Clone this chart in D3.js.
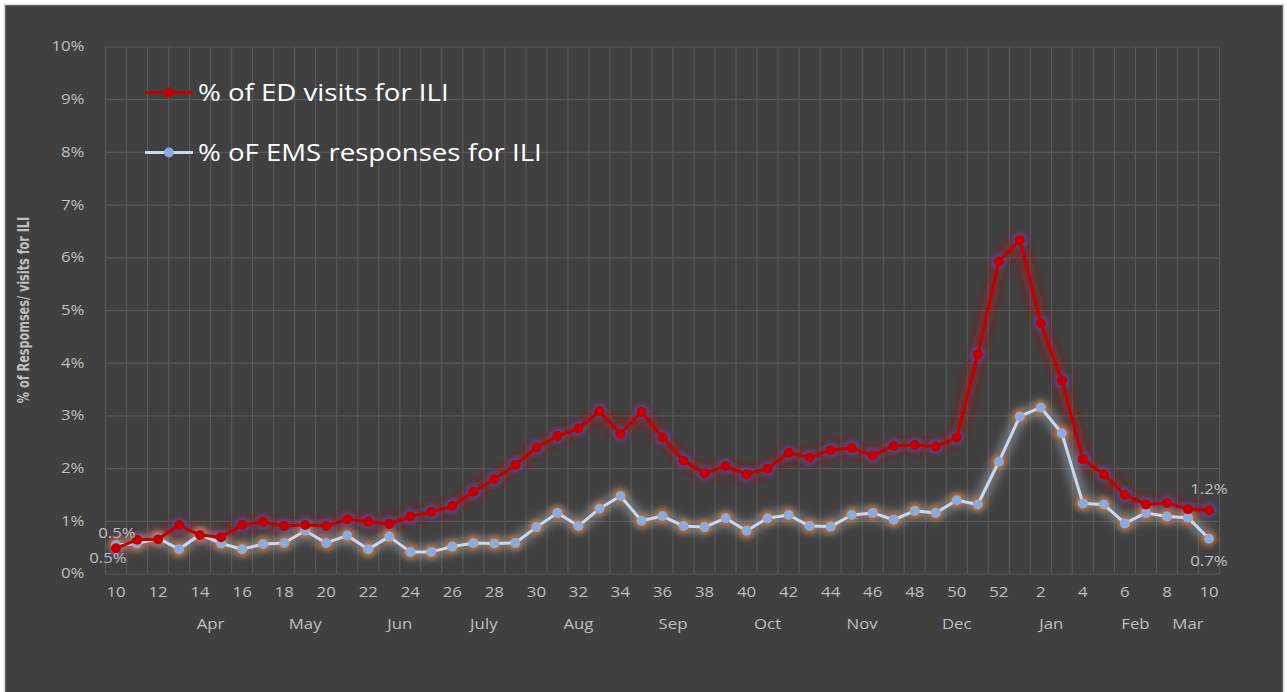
<!DOCTYPE html>
<html>
<head>
<meta charset="utf-8">
<script src="https://cdn.jsdelivr.net/npm/d3@7"></script>
<style>
    body { margin: 0; background: #ffffff; }
    text { font-family: "Open Sans", "Noto Sans", sans-serif; }
</style>
</head>
<body>
<div id="chart"></div>
<script>
// week numbers (category axis), season runs from week 10 to week 10 of next year
const weeks = ["10","11","12","13","14","15","16","17","18","19","20","21","22","23","24","25","26","27","28","29",
    "30","31","32","33","34","35","36","37","38","39","40","41","42","43","44","45","46","47","48","49",
    "50","51","52","1","2","3","4","5","6","7","8","9","10"];

// second category level (month), blank = same group as previous
const months = ["","","","","Apr","","May","","","","","","","Jun","","July","","","","","",
    "Aug","","","Sep","","","","","","Oct","","","Nov","","","","","","Dec","","","Jan",
    "","","","","","Feb","","Mar","",""];

// % of ED visits for ILI
const edVisits = [0.48,0.64,0.65,0.92,0.73,0.69,0.92,0.98,0.90,0.92,0.90,1.03,0.98,0.94,1.08,1.17,1.28,1.55,1.79,2.06,
    2.39,2.61,2.75,3.08,2.65,3.07,2.58,2.14,1.90,2.04,1.88,1.99,2.29,2.20,2.34,2.38,2.24,2.42,2.44,2.41,
    2.58,4.16,5.92,6.33,4.75,3.66,2.17,1.88,1.49,1.31,1.34,1.22,1.20];

// % of EMS responses for ILI
const emsResponses = [0.54,0.57,0.67,0.46,0.74,0.57,0.46,0.56,0.58,0.81,0.58,0.72,0.46,0.70,0.41,0.41,0.51,0.58,0.57,0.58,
    0.88,1.15,0.90,1.23,1.47,1.00,1.09,0.90,0.88,1.05,0.81,1.05,1.11,0.90,0.89,1.11,1.15,1.02,1.19,1.15,
    1.39,1.31,2.12,2.98,3.15,2.66,1.33,1.31,0.95,1.15,1.08,1.06,0.66];

const yTicks = [0,1,2,3,4,5,6,7,8,9,10];

const seriesNames = ["% of ED visits for ILI", "% oF EMS responses for ILI"];

// the original picture is a bit wider than tall, text included
const stretchX = 1.2;

// widen text horizontally without moving its anchor point
function stretch(sel) {
    sel.each(function() {
        const t = d3.select(this);
        const x0 = +t.attr("x") || 0;
        t.attr("x", x0 / stretchX)
            .attr("transform", `scale(${stretchX},1)`);
    });
}

function drawChart() {
    const width = 1287;
    const height = 692;
    const margin = ({top: 46.5, right: 67.5, bottom: 118.5, left: 105.5});

    const labelColour = "#bfbfbf";
    const gridColour = "#585858";

    const x = d3.scaleBand()
        .domain(d3.range(weeks.length))
        .range([margin.left, width - margin.right])
    const cx = i => x(i) + x.bandwidth() / 2;

    const y = d3.scaleLinear()
        .domain([0, 10])
        .range([height - margin.bottom, margin.top])

    const svg = d3.select("#chart")
        .append("svg")
        .attr("width", width)
        .attr("height", height);

    const defs = svg.append("defs");
    [["blur5", 5], ["blur2", 2]].forEach(f => {
        defs.append("filter")
            .attr("id", f[0])
            .attr("x", "-20%").attr("y", "-50%")
            .attr("width", "140%").attr("height", "200%")
            .append("feGaussianBlur")
            .attr("stdDeviation", f[1]);
    });

    // chart area with light border
    svg.append("rect")
        .attr("x", 4.5)
        .attr("y", 4.5)
        .attr("width", width - 8)
        .attr("height", height)
        .attr("fill", "#404040")
        .attr("stroke", "#d9d9d9")
        .attr("stroke-width", 1.5);

    // horizontal gridlines
    svg.append("g")
        .attr("class", "grid")
        .attr("transform", `translate(${margin.left},0)`)
        .call(d3.axisLeft(y)
            .tickValues(yTicks)
            .tickSize(-(width - margin.left - margin.right))
            .tickFormat("")
        )
        .call(g => g.select(".domain").remove())
        .call(g => g.selectAll("line").attr("stroke", gridColour).attr("stroke-width", 1.2));

    // vertical gridlines at category boundaries
    svg.append("g")
        .selectAll("line")
        .data(d3.range(weeks.length + 1))
        .join("line")
        .attr("x1", i => x.range()[0] + i * x.step())
        .attr("x2", i => x.range()[0] + i * x.step())
        .attr("y1", y(10))
        .attr("y2", y(0))
        .attr("stroke", gridColour)
        .attr("stroke-width", 1.2);

    svg.append("g")
        .attr("transform", `translate(${margin.left},0)`)
        .call(d3.axisLeft(y)
            .tickValues(yTicks)
            .tickFormat(d => d + "%")
            .tickSize(0)
            .tickPadding(21)
        )
        .call(g => g.select(".domain").remove())
        .call(g => g.selectAll("text")
            .attr("fill", labelColour)
            .attr("font-size", "14px")
            .attr("font-family", "Open Sans, sans-serif")
            .call(stretch));

    // week labels, every second one like Excel
    svg.append("g")
        .attr("transform", `translate(0,${height - margin.bottom})`)
        .call(d3.axisBottom(x)
            .tickFormat(i => i % 2 === 0 ? weeks[i] : "")
            .tickSize(0)
            .tickPadding(14)
        )
        .call(g => g.select(".domain").remove())
        .call(g => g.selectAll("text")
            .attr("fill", labelColour)
            .attr("font-size", "14px")
            .attr("font-family", "Open Sans, sans-serif")
            .call(stretch));

    // month labels centred under their group of weeks
    const groups = [];
    months.forEach((m, i) => {
        if (m !== "") groups.push({name: m, start: i, end: weeks.length});
        if (m !== "" && groups.length > 1) groups[groups.length - 2].end = i;
    });
    svg.append("g")
        .selectAll("text")
        .data(groups)
        .join("text")
        .attr("x", d => (x(d.start) + x(d.end - 1) + x.bandwidth()) / 2)
        .attr("y", height - margin.bottom + 56)
        .attr("text-anchor", "middle")
        .attr("fill", labelColour)
        .attr("font-size", "14px")
        .text(d => d.name)
        .call(stretch);

    // y axis title
    svg.append("text")
        .attr("transform", `translate(29,${(y(0) + y(10)) / 2}) rotate(-90) scale(1,1.3)`)
        .attr("text-anchor", "middle")
        .attr("fill", labelColour)
        .attr("font-size", "12.5px")
        .attr("font-weight", "bold")
        .style("font-family", "'Liberation Sans Narrow', 'DejaVu Sans Condensed', sans-serif")
        .text("% of Respomses/ visits for ILI");

    const line = d3.line()
        .x((d, i) => cx(i))
        .y(d => y(d))

    const series = [
        {values: edVisits, line: "#c00000", marker: "#c00000", lineGlow: "#a81818", glowOpacity: 0.5, markerGlow: "#4a4fa8"},
        {values: emsResponses, line: "#c9d8f0", marker: "#8eaadb", lineGlow: "#c0c8d4", glowOpacity: 0.4, markerGlow: "#c8702c"}
    ];

    // glow underlays
    series.forEach(s => {
        svg.append("path")
            .attr("d", line(s.values))
            .attr("fill", "none")
            .attr("stroke", s.lineGlow)
            .attr("stroke-width", 13)
            .attr("stroke-opacity", s.glowOpacity)
            .attr("stroke-linejoin", "round")
            .attr("filter", "url(#blur5)");
        svg.append("g")
            .selectAll("circle")
            .data(s.values)
            .join("circle")
            .attr("cx", (d, i) => cx(i))
            .attr("cy", d => y(d))
            .attr("r", 8)
            .attr("fill", s.markerGlow)
            .attr("fill-opacity", 0.7)
            .attr("filter", "url(#blur2)");
    });

    // lines and markers, EMS first so ED sits on top
    series.slice().reverse().forEach(s => {
        svg.append("path")
            .attr("d", line(s.values))
            .attr("fill", "none")
            .attr("stroke", s.line)
            .attr("stroke-width", 3)
            .attr("stroke-linejoin", "round");
        svg.append("g")
            .selectAll("circle")
            .data(s.values)
            .join("circle")
            .attr("cx", (d, i) => cx(i))
            .attr("cy", d => y(d))
            .attr("r", 5)
            .attr("fill", s.marker);
    });

    // data labels on first and last point: ED above, EMS below
    const last = weeks.length - 1;
    const labels = [
        {vals: edVisits, i: 0, dx: 1, dy: -15},
        {vals: emsResponses, i: 0, dx: -8, dy: 13},
        {vals: edVisits, i: last, dx: 0, dy: -21},
        {vals: emsResponses, i: last, dx: 0, dy: 22}
    ];
    svg.append("g")
        .selectAll("text")
        .data(labels)
        .join("text")
        .attr("x", d => cx(d.i) + d.dx)
        .attr("y", d => y(d.vals[d.i]) + d.dy)
        .attr("dy", "0.35em")
        .attr("text-anchor", "middle")
        .attr("fill", labelColour)
        .attr("font-size", "14px")
        .text(d => d.vals[d.i].toFixed(1) + "%")
        .call(stretch);

    // legend
    const legend = svg.append("g")
        .selectAll("g")
        .data(series)
        .join("g")
        .attr("transform", (d, i) => `translate(145,${92.5 + i * 60})`);
    legend.append("line")
        .attr("x1", 0).attr("x2", 48)
        .attr("stroke", d => d.line)
        .attr("stroke-width", 3);
    legend.append("circle")
        .attr("cx", 24)
        .attr("r", 5)
        .attr("fill", d => d.marker);
    legend.append("text")
        .attr("x", 53)
        .attr("dy", "0.35em")
        .attr("fill", "#ffffff")
        .attr("font-size", "23px")
        .text((d, i) => seriesNames[i])
        .call(stretch);
}

drawChart();
</script>
</body>
</html>
